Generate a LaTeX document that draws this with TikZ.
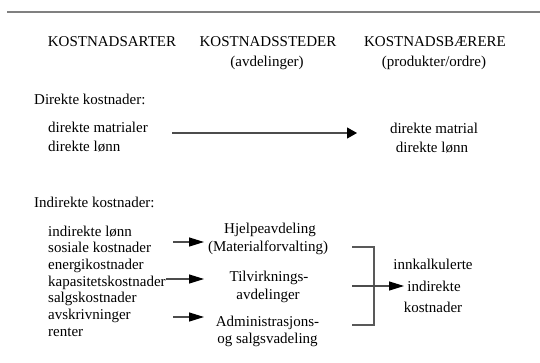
\documentclass[tikz,border=0pt]{standalone}
\usepackage{fontspec}
\setmainfont{Liberation Serif}
\usetikzlibrary{arrows.meta}
\begin{document}
\begin{tikzpicture}[x=1pt,y=-1pt,
  txt/.style={inner sep=0pt,font=\fontsize{15}{17}\selectfont},
  lft/.style={txt,anchor=base west},
  ctr/.style={txt,anchor=base},
  rule/.style={draw=black!50,line width=1.8pt},
  conn/.style={draw=black!70,line width=1.2pt},
  bigarr/.style={conn,-{Triangle[length=10pt,width=11pt,color=black]}},
  arr/.style={conn,-{Triangle[length=15pt,width=9pt,color=black]}},
  brk/.style={draw=black!65,line width=1.1pt}]
\useasboundingbox (0,0) rectangle (540,362);
% top rule
\coordinate (r1) at (7,12);
\coordinate (r2) at (540,12);
\draw[rule] (r1) -- (r2);
% headings
\node[ctr] (hA) at (112,46) {KOSTNADSARTER};
\node[ctr] (hS) at (268,46) {KOSTNADSSTEDER};
\node[ctr] (hB) at (435,46) {KOSTNADSBÆRERE};
\node[ctr] (sS) at (267,66) {(avdelinger)};
\node[ctr] (sB) at (434,66) {(produkter/ordre)};
% direct costs
\node[lft] (dk) at (34,104) {Direkte kostnader:};
\node[lft] (dm1) at (48,132) {direkte matrialer};
\node[lft] (dm2) at (48,151) {direkte lønn};
\node[ctr] (dr1) at (434,133) {direkte matrial};
\node[ctr] (dr2) at (432,152) {direkte lønn};
\coordinate (a1s) at (172,133);
\coordinate (a1e) at (357,133);
\draw[bigarr] (a1s) -- (a1e);
% indirect costs
\node[lft] (ik) at (34,207) {Indirekte kostnader:};
\foreach \t [count=\i] in {indirekte lønn,sosiale kostnader,energikostnader,kapasitetskostnader,salgskostnader,avskrivninger,renter}
  \node[lft] (l\i) at (48,{236+16.67*(\i-1)}) {\t};
% departments
\node[ctr] (hj1) at (270,233) {Hjelpeavdeling};
\node[ctr] (hj2) at (268,251) {(Materialforvalting)};
\node[ctr] (tv1) at (269,281) {Tilvirknings-};
\node[ctr] (tv2) at (268,299) {avdelinger};
\node[ctr] (ad1) at (267.5,326) {Administrasjons-};
\node[ctr] (ad2) at (267.5,343) {og salgsvadeling};
% arrows to departments
\coordinate (b1s) at (173,242);
\coordinate (b1e) at (204,242);
\coordinate (b2s) at (166,279);
\coordinate (b2e) at (204,279);
\coordinate (b3s) at (173,317);
\coordinate (b3e) at (204,317);
\draw[arr] (b1s) -- (b1e);
\draw[arr] (b2s) -- (b2e);
\draw[arr] (b3s) -- (b3e);
% bracket
\coordinate (k1) at (352,247);
\coordinate (k2) at (374,247);
\coordinate (k3) at (374,325);
\coordinate (k4) at (352,325);
\draw[brk] (k1) -- (k2) -- (k3) -- (k4);
\coordinate (m1) at (352,286);
\coordinate (m2) at (404,286);
\draw[arr] (m1) -- (m2);
% result
\node[ctr] (ri1) at (433,269) {innkalkulerte};
\node[ctr] (ri2) at (434,291) {indirekte};
\node[ctr] (ri3) at (433,312) {kostnader};
\end{tikzpicture}
\end{document}
